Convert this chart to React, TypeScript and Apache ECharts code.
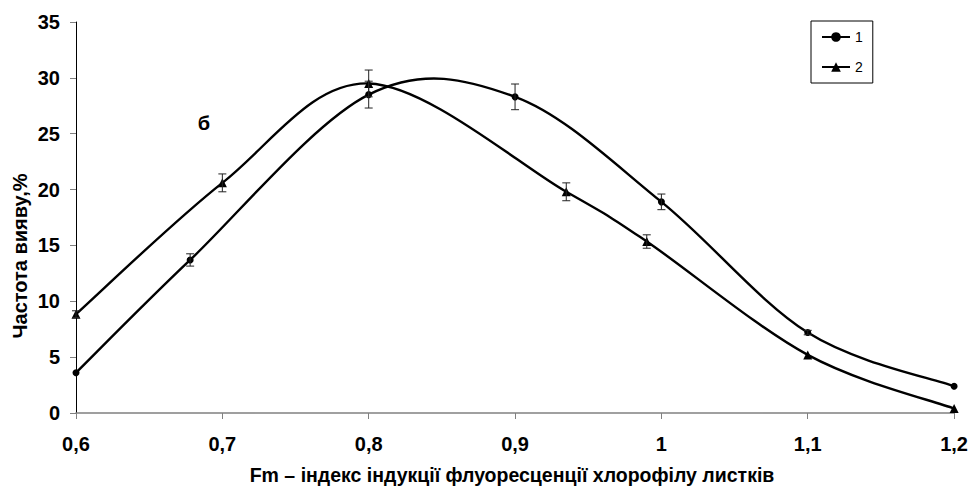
import React, { useEffect, useRef } from "react";
import * as echarts from "echarts";

const xTicksMin = 0.6;
const xTicksMax = 1.2;
const yMax = 35;

const s1Name = "1";
const s1X = [0.6, 0.678, 0.8, 0.9, 1.0, 1.1, 1.2];
const s1Y = [3.6, 13.7, 28.5, 28.3, 18.9, 7.2, 2.4];
const s1Err = [0, 0.55, 1.2, 1.15, 0.7, 0.2, 0];

const s2Name = "2";
const s2X = [0.6, 0.7, 0.8, 0.935, 0.99, 1.1, 1.2];
const s2Y = [8.85, 20.6, 29.5, 19.8, 15.35, 5.2, 0.4];
const s2Err = [0.3, 0.8, 1.2, 0.8, 0.6, 0, 0];

const xTitle = "Fm – індекс індукції флуоресценції хлорофілу листків";
const yTitle = "Частота вияву,%";
const panelLabel = "б";

const FONT = "Arial, 'Liberation Sans', sans-serif";

function curveSeries(xs: number[], ys: number[]) {
  const n = xs.length;
  const clamp = (k: number) => Math.max(0, Math.min(n - 1, k));
  return {
    type: "custom",
    data: xs.map((x, i) => [x, ys[i]]),
    z: 2,
    silent: true,
    renderItem: (params: any, api: any) => {
      const i = params.dataIndex;
      if (i >= n - 1) return null;
      const p = (k: number) => api.coord([xs[clamp(k)], ys[clamp(k)]]);
      const p0 = p(i - 1);
      const p1 = p(i);
      const p2 = p(i + 1);
      const p3 = p(i + 2);
      return {
        type: "bezierCurve",
        shape: {
          x1: p1[0],
          y1: p1[1],
          x2: p2[0],
          y2: p2[1],
          cpx1: p1[0] + (p2[0] - p0[0]) / 6,
          cpy1: p1[1] + (p2[1] - p0[1]) / 6,
          cpx2: p2[0] - (p3[0] - p1[0]) / 6,
          cpy2: p2[1] - (p3[1] - p1[1]) / 6,
        },
        style: { stroke: "#000", lineWidth: 2.4, fill: null },
      };
    },
  };
}

export default function App() {
  const ref = useRef<HTMLDivElement>(null);
  useEffect(() => {
    if (!ref.current) return;
    const chart = echarts.init(ref.current, null, { renderer: "svg" });
    const line1 = s1X.map((x, i) => [x, s1Y[i]]);
    const line2 = s2X.map((x, i) => [x, s2Y[i]]);
    const errData: number[][] = [];
    s1X.forEach((x, i) => {
      if (s1Err[i] > 0) errData.push([x, s1Y[i] - s1Err[i], s1Y[i] + s1Err[i]]);
    });
    s2X.forEach((x, i) => {
      if (s2Err[i] > 0) errData.push([x, s2Y[i] - s2Err[i], s2Y[i] + s2Err[i]]);
    });
    const legendLine = { color: "#000", width: 2, opacity: 1 };
    chart.setOption({
      animation: false,
      grid: { left: 76, right: 13, top: 22, bottom: 76, containLabel: false },
      legend: {
        data: [
          { name: s1Name, lineStyle: legendLine },
          { name: s2Name, lineStyle: legendLine },
        ],
        lineStyle: legendLine,
        orient: "vertical",
        left: 811,
        top: 21,
        borderColor: "#000",
        borderWidth: 1,
        padding: [9, 10, 9, 10],
        itemWidth: 28,
        itemHeight: 12,
        itemGap: 16,
        textStyle: { fontFamily: FONT, fontSize: 14, color: "#000" },
      },
      xAxis: {
        type: "value",
        min: xTicksMin,
        max: xTicksMax,
        interval: 0.1,
        axisLine: { lineStyle: { color: "#808080", width: 1.5 } },
        axisTick: { length: 6, lineStyle: { color: "#808080" } },
        axisLabel: {
          margin: 21,
          fontFamily: FONT,
          fontSize: 20,
          fontWeight: "bold",
          color: "#000",
          formatter: (v: number) => String(Number(v.toFixed(1))).replace(".", ","),
        },
        splitLine: { show: false },
      },
      yAxis: {
        type: "value",
        min: 0,
        max: yMax,
        interval: 5,
        axisLine: { show: true, lineStyle: { color: "#000", width: 1 } },
        axisTick: { show: true, length: 6, lineStyle: { color: "#808080" } },
        axisLabel: {
          margin: 16,
          fontFamily: FONT,
          fontSize: 20,
          fontWeight: "bold",
          color: "#000",
        },
        splitLine: { show: false },
      },
      graphic: [
        {
          type: "text",
          x: 20,
          y: 256,
          rotation: Math.PI / 2,
          style: {
            text: yTitle,
            fontFamily: FONT,
            fontSize: 20,
            fontWeight: "bold",
            fill: "#000",
            textAlign: "center",
            textVerticalAlign: "middle",
          },
        },
        {
          type: "text",
          x: 512,
          y: 475,
          style: {
            text: xTitle,
            fontFamily: FONT,
            fontSize: 19.5,
            fontWeight: "bold",
            fill: "#000",
            textAlign: "center",
            textVerticalAlign: "middle",
          },
        },
        {
          type: "text",
          x: 204,
          y: 123,
          style: {
            text: panelLabel,
            fontFamily: FONT,
            fontSize: 20,
            fontWeight: "bold",
            fill: "#000",
            textAlign: "center",
            textVerticalAlign: "middle",
          },
        },
      ],
      series: [
        curveSeries(s1X, s1Y),
        curveSeries(s2X, s2Y),
        {
          name: s1Name,
          type: "line",
          data: line1,
          symbol: "circle",
          symbolSize: 7,
          itemStyle: { color: "#000" },
          lineStyle: { color: "#000", width: 2, opacity: 0 },
          z: 3,
        },
        {
          name: s2Name,
          type: "line",
          data: line2,
          symbol: "triangle",
          symbolSize: 9,
          itemStyle: { color: "#000" },
          lineStyle: { color: "#000", width: 2, opacity: 0 },
          z: 3,
        },
        {
          type: "custom",
          data: errData,
          z: 4,
          silent: true,
          renderItem: (params: any, api: any) => {
            const x = api.value(0);
            const top = api.coord([x, api.value(2)]);
            const bot = api.coord([x, api.value(1)]);
            const w = 4;
            const style = { stroke: "#222", lineWidth: 1 };
            return {
              type: "group",
              children: [
                { type: "line", shape: { x1: top[0], y1: top[1], x2: bot[0], y2: bot[1] }, style },
                { type: "line", shape: { x1: top[0] - w, y1: top[1], x2: top[0] + w, y2: top[1] }, style },
                { type: "line", shape: { x1: bot[0] - w, y1: bot[1], x2: bot[0] + w, y2: bot[1] }, style },
              ],
            };
          },
        },
      ],
    });
    return () => chart.dispose();
  }, []);
  return (
    <div
      ref={ref}
      style={{ position: "fixed", left: 0, top: 0, width: 971, height: 489, background: "#fff" }}
    />
  );
}
